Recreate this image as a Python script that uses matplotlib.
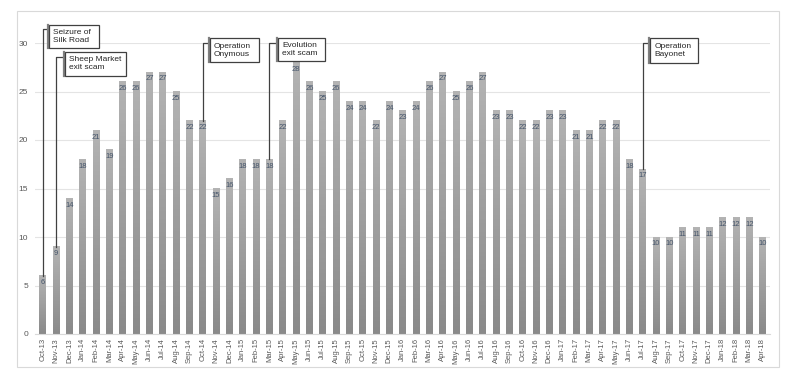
import numpy as np
import matplotlib
matplotlib.use("Agg")
import matplotlib.pyplot as plt
from matplotlib.colors import LinearSegmentedColormap
from matplotlib.patches import Rectangle

plt.rcParams['font.family'] = ['Liberation Sans', 'DejaVu Sans']

# --- Daten ---
months = ["Oct-13", "Nov-13", "Dec-13",
          "Jan-14", "Feb-14", "Mar-14", "Apr-14", "May-14", "Jun-14", "Jul-14", "Aug-14", "Sep-14", "Oct-14", "Nov-14", "Dec-14",
          "Jan-15", "Feb-15", "Mar-15", "Apr-15", "May-15", "Jun-15", "Jul-15", "Aug-15", "Sep-15", "Oct-15", "Nov-15", "Dec-15",
          "Jan-16", "Feb-16", "Mar-16", "Apr-16", "May-16", "Jun-16", "Jul-16", "Aug-16", "Sep-16", "Oct-16", "Nov-16", "Dec-16",
          "Jan-17", "Feb-17", "Mar-17", "Apr-17", "May-17", "Jun-17", "Jul-17", "Aug-17", "Sep-17", "Oct-17", "Nov-17", "Dec-17",
          "Jan-18", "Feb-18", "Mar-18", "Apr-18"]
counts = [6, 9, 14,
          18, 21, 19, 26, 26, 27, 27, 25, 22, 22, 15, 16,
          18, 18, 18, 22, 28, 26, 25, 26, 24, 24, 22, 24,
          23, 24, 26, 27, 25, 26, 27, 23, 23, 22, 22, 23,
          23, 21, 21, 22, 22, 18, 17, 10, 10, 11, 11, 11,
          12, 12, 12, 10]
yticks = [0, 5, 10, 15, 20, 25, 30]

event_months = ["Oct-13", "Nov-13", "Oct-14", "Mar-15", "Jul-17"]
event_texts = ["Seizure of\nSilk Road", "Sheep Market\nexit scam", "Operation\nOnymous",
               "Evolution\nexit scam", "Operation\nBayonet"]

# --- Figur ---
fig = plt.figure(figsize=(7.96, 3.83), dpi=100)
fig.patches.append(Rectangle((17 / 796, 1 - 367 / 383), (779 - 17) / 796, (367 - 11) / 383,
                             transform=fig.transFigure, fill=False, edgecolor="#d9d9d9", linewidth=0.8))
ax = fig.add_axes([35 / 796, 1 - 334 / 383, 735 / 796, 291 / 383])

x = np.arange(len(months))
width = 0.52
cmap = LinearSegmentedColormap.from_list("bar", ["#8a8a8a", "#b3b3b3"])
grad = np.linspace(0, 1, 64).reshape(-1, 1)
for xi, v in zip(x, counts):
    ax.imshow(grad, extent=[xi - width / 2, xi + width / 2, 0, v], origin="lower",
              aspect="auto", cmap=cmap, zorder=2)
    ax.text(xi, v - 0.35, str(v), ha="center", va="top", fontsize=5.5, color="#44546a", zorder=3)

ax.set_xlim(-0.58, len(months) - 0.45)
ax.set_ylim(0, 30)
ax.set_yticks(yticks)
ax.set_xticks(x)
ax.set_xticklabels(months, rotation=90, fontsize=5.5, color="#595959")
ax.tick_params(axis="y", labelsize=6, colors="#595959", length=0, pad=5)
ax.tick_params(axis="x", length=0, pad=3)
ax.grid(axis="y", color="#e4e4e4", linewidth=0.8, zorder=0)
for s in ["top", "right", "left"]:
    ax.spines[s].set_visible(False)
ax.spines["bottom"].set_color("#d9d9d9")

# --- Ereignisse (Callouts) ---
# (Höhe der Linie, Boxoberkante, Boxunterkante, Abstand, Breite) in Datenkoordinaten
layout = [(31.4, 31.9, 29.5, 0.35, 3.7),
          (28.6, 29.1, 26.6, 0.52, 4.6),
          (30.0, 30.5, 28.0, 0.40, 3.7),
          (30.0, 30.5, 28.1, 0.52, 3.5),
          (30.0, 30.5, 27.9, 0.42, 3.6)]
for m, txt, (ly, top, bot, off, w) in zip(event_months, event_texts, layout):
    i = months.index(m)
    v = counts[i]
    ax.plot([i, i, i + off], [v, ly, ly], color="#404040", linewidth=0.9, clip_on=False, zorder=4)
    ax.plot([i + off + 0.05, i + off + 0.05], [bot, top], color="#808080", linewidth=1.6,
            clip_on=False, zorder=4)
    ax.add_patch(Rectangle((i + off + 0.15, bot), w, top - bot, facecolor="white",
                           edgecolor="#404040", linewidth=0.9, clip_on=False, zorder=4))
    ax.text(i + off + 0.45, (top + bot) / 2, txt, ha="left", va="center", fontsize=6,
            color="#262626", linespacing=1.15, zorder=5, clip_on=False)

fig.savefig("out.png", dpi=100)
